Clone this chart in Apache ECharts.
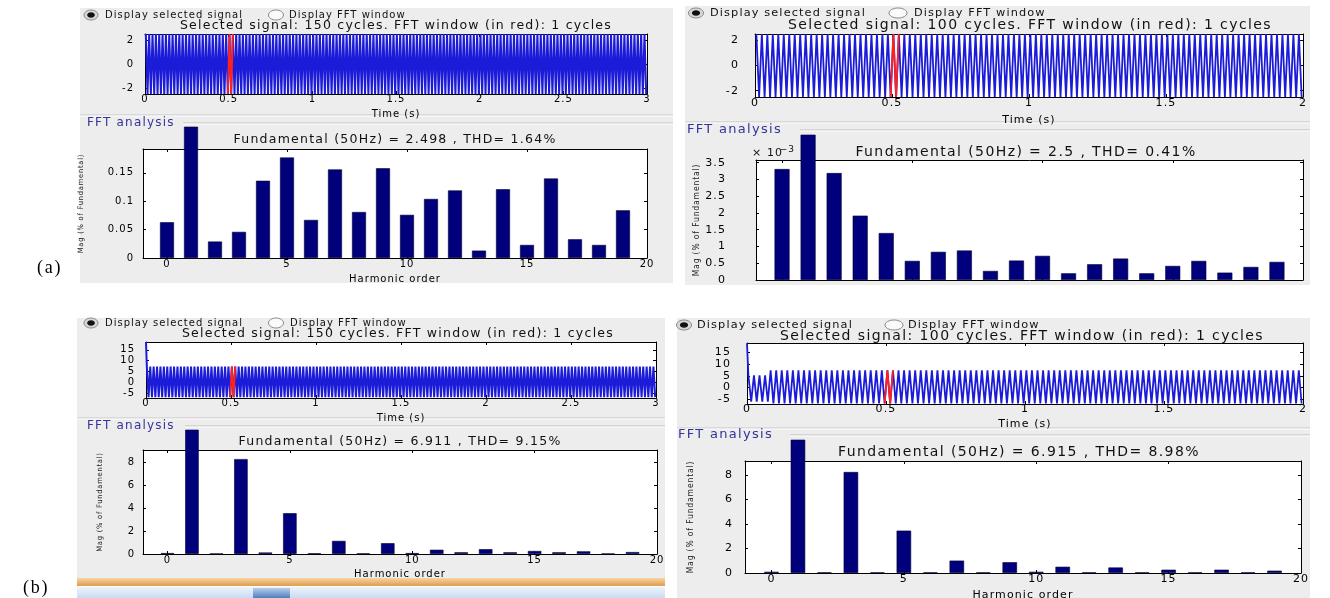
<!DOCTYPE html>
<html><head><meta charset="utf-8">
<script src="https://cdn.jsdelivr.net/npm/echarts@6/dist/echarts.min.js"></script>
<style>html,body{margin:0;padding:0;background:#fff}#c{width:1330px;height:598px}</style>
</head><body><div id="c"></div>
<script>
// ================= DATA =================
const harmonicOrder = [0,1,2,3,4,5,6,7,8,9,10,11,12,13,14,15,16,17,18,19];
// Mag (% of Fundamental), fundamental (order 1) = 100
const magA1 = [0.063,100,0.029,0.046,0.136,0.177,0.067,0.156,0.081,0.158,0.076,0.104,0.119,0.013,0.121,0.023,0.140,0.033,0.023,0.084];
const magA2 = [3.31e-3,100,3.19e-3,1.92e-3,1.40e-3,0.57e-3,0.84e-3,0.88e-3,0.27e-3,0.58e-3,0.72e-3,0.20e-3,0.47e-3,0.64e-3,0.20e-3,0.42e-3,0.57e-3,0.22e-3,0.39e-3,0.54e-3];
const magB1 = [0.08,100,0.03,8.26,0.13,3.55,0.06,1.14,0.05,0.94,0.08,0.37,0.15,0.42,0.15,0.26,0.15,0.23,0.03,0.17];
const magB2 = [0.10,100,0.05,8.25,0.05,3.46,0.05,1.01,0.05,0.88,0.10,0.51,0.05,0.45,0.05,0.27,0.05,0.27,0.05,0.19];

// FFT axis ranges and tick labels
const fftRangeA1 = [0, 0.192], fftTicksA1 = [0, 0.05, 0.1, 0.15];
const fftRangeA2 = [0, 3.58e-3], fftTicksA2 = [0, 0.5e-3, 1e-3, 1.5e-3, 2e-3, 2.5e-3, 3e-3, 3.5e-3];
const fftRangeB1 = [0, 9.05], fftTicksB1 = [0, 2, 4, 6, 8];
const fftRangeB2 = [0, 9.15], fftTicksB2 = [0, 2, 4, 6, 8];
const harmonicRange = [-1, 20], harmonicTicks = [0, 5, 10, 15, 20];

// Time signals: envelope segments [from s, to s, positive peak, negative peak], start transients [t, value]
const fundamentalHz = 50;
const signalA1 = [[0, 3, 2.5, -2.5]];
const signalA2 = [[0, 2, 2.5, -2.5]];
const signalB1 = [[0, 3, 7.3, -6.9]];
const signalB2 = [[0, 0.08, 5.2, -6.0], [0.08, 2, 7.3, -6.8]];
const spikeA1 = [], spikeA2 = [];
const spikeB1 = [[0, 18.6]];
const spikeB2 = [[0, 18.8]];
const fftWindowStart = 0.5, fftWindowCycles = 1;

// time axis ranges and ticks
const timeMaxA = 3, timeMaxB = 2;
const timeRangeA1 = [-2.5, 2.5], timeTicksA1 = [-2, 0, 2];
const timeRangeA2 = [-2.5, 2.5], timeTicksA2 = [-2, 0, 2];
const timeRangeB1 = [-7.3, 18.6], timeTicksB1 = [-5, 0, 5, 10, 15];
const timeRangeB2 = [-7.0, 19.0], timeTicksB2 = [-5, 0, 5, 10, 15];

// texts
const titleA1 = 'Selected signal: 150 cycles. FFT window (in red): 1 cycles';
const titleA2 = 'Selected signal: 100 cycles. FFT window (in red): 1 cycles';
const titleB1 = 'Selected signal: 150 cycles. FFT window (in red): 1 cycles';
const titleB2 = 'Selected signal: 100 cycles. FFT window (in red): 1 cycles';
const fftTitleA1 = 'Fundamental (50Hz) = 2.498 , THD= 1.64%';
const fftTitleA2 = 'Fundamental (50Hz) = 2.5 , THD= 0.41%';
const fftTitleB1 = 'Fundamental (50Hz) = 6.911 , THD= 9.15%';
const fftTitleB2 = 'Fundamental (50Hz) = 6.915 , THD= 8.98%';
const radioLabels = ['Display selected signal', 'Display FFT window'];
const groupLabel = 'FFT analysis';
const timeName = 'Time (s)', harmonicName = 'Harmonic order', magName = 'Mag (% of Fundamental)';
const figureLabels = ['(a)', '(b)'];

// ---- wide letter spacing like the MATLAB screen font ----
(function () {
  const P = CanvasRenderingContext2D.prototype;
  if (!('letterSpacing' in P)) return;
  const orig = P.fillText;
  P.fillText = function (t, x, y, m) {
    const mm = /([\d.]+)px/.exec(this.font);
    this.letterSpacing = mm ? (parseFloat(mm[1]) * 0.1).toFixed(2) + 'px' : '0px';
    return m === undefined ? orig.call(this, t, x, y) : orig.call(this, t, x, y, m);
  };
})();

// ================= LAYOUT (pixels) =================
const FONT = '"DejaVu Sans", Arial, sans-serif';
const NARROW = '"Liberation Sans Narrow","DejaVu Sans Condensed","DejaVu Sans",sans-serif';
const panels = [
  { mags: magA1, fftRange: fftRangeA1, fftTicks: fftTicksA1, sig: signalA1, spike: spikeA1, tMax: timeMaxA,
    tRange: timeRangeA1, tTicks: timeTicksA1, title: titleA1, fftTitle: fftTitleA1, showFftX: true, sci: false,
    bg: [80, 8, 593, 275], fs: { radio: 10, title: 12.5, tick: 10, name: 10, group: 12, yname: 7.5 },
    radio: [[91, 15, 7], [276, 15, 7.5]], radioText: [105, 289], radioY: 15,
    titleC: [396, 26], lw: 2,
    time: { left: 145, top: 34, width: 502, height: 60, xm: 0, ym: 11, gap: 15 },
    divider: 115, group: [87, 123, 183],
    fftTitleC: [395, 140], overTop: 127,
    fft: { left: 143, top: 149, width: 504, height: 109, xm: 1, ym: 9, gap: 16, ygap: 58 },
    barW: 14 },
  { mags: magA2, fftRange: fftRangeA2, fftTicks: fftTicksA2, sig: signalA2, spike: spikeA2, tMax: timeMaxB,
    tRange: timeRangeA2, tTicks: timeTicksA2, title: titleA2, fftTitle: fftTitleA2, showFftX: false, sci: true,
    bg: [685, 6, 625, 279], fs: { radio: 11.3, title: 14, tick: 11, name: 11, group: 13, yname: 8.5 },
    radio: [[696, 13, 7.5], [898, 13, 9]], radioText: [710, 914], radioY: 13,
    titleC: [1030, 25], lw: 1.8,
    time: { left: 755, top: 34, width: 548, height: 63, xm: 1, ym: 16, gap: 18 },
    divider: 122, group: [687, 130, 800],
    fftTitleC: [1026, 152], overTop: 135,
    fft: { left: 756, top: 160, width: 547, height: 120, xm: 1, ym: 30, gap: 16, ygap: 55 },
    barW: 15 },
  { mags: magB1, fftRange: fftRangeB1, fftTicks: fftTicksB1, sig: signalB1, spike: spikeB1, tMax: timeMaxA,
    tRange: timeRangeB1, tTicks: timeTicksB1, title: titleB1, fftTitle: fftTitleB1, showFftX: true, sci: false,
    bg: [77, 318, 588, 260], fs: { radio: 10, title: 12.5, tick: 10, name: 10, group: 12, yname: 7.5 },
    radio: [[91, 323, 7], [276, 323, 7.5]], radioText: [105, 290], radioY: 323,
    titleC: [398, 334], lw: 2,
    time: { left: 146, top: 342, width: 510, height: 56, xm: 0, ym: 11, gap: 15 },
    divider: 418, group: [87, 426, 185],
    fftTitleC: [400, 442], overTop: 430,
    fft: { left: 143, top: 450, width: 514, height: 104, xm: 1, ym: 8, gap: 15, ygap: 39 },
    barW: 13.5 },
  { mags: magB2, fftRange: fftRangeB2, fftTicks: fftTicksB2, sig: signalB2, spike: spikeB2, tMax: timeMaxB,
    tRange: timeRangeB2, tTicks: timeTicksB2, title: titleB2, fftTitle: fftTitleB2, showFftX: true, sci: false,
    bg: [677, 318, 633, 280], fs: { radio: 11.3, title: 14, tick: 11, name: 11, group: 13, yname: 8.5 },
    radio: [[684, 325, 7.5], [894, 325, 9]], radioText: [697, 908], radioY: 325,
    titleC: [1022, 336], lw: 1.8,
    time: { left: 747, top: 343, width: 556, height: 61, xm: 0, ym: 16, gap: 15 },
    divider: 428, group: [678, 435, 790],
    fftTitleC: [1019, 452], overTop: 440,
    fft: { left: 745, top: 461, width: 556, height: 112, xm: 1, ym: 12, gap: 17, ygap: 50 },
    barW: 14.5 }
];

// ================= BUILD =================
function buildSignal(spikes, segments, f) {
  const pts = spikes.map(p => p.slice());
  const half = 1 / (2 * f);
  segments.forEach(([t0, t1, up, lo]) => {
    for (let k = 0; (k + 0.5) * half <= t1 + 1e-9; k++) {
      const t = (k + 0.5) * half;
      if (t < t0) continue;
      pts.push([+t.toFixed(4), k % 2 === 0 ? up : lo]);
    }
  });
  return pts;
}

const grid = [], xAxis = [], yAxis = [], series = [], graphic = [];
const BLACK = '#000';

function axisBase(gi, extra) {
  return Object.assign({
    gridIndex: gi, type: 'value',
    axisLine: { show: true, onZero: false, lineStyle: { color: BLACK, width: 1 } },
    axisTick: { show: true, inside: true, length: 3, lineStyle: { color: BLACK } },
    splitLine: { show: false }
  }, extra);
}

panels.forEach((p, pi) => {
  const fs = p.fs;
  const [bx, by, bw, bh] = p.bg;
  graphic.push({ type: 'rect', z: -20, shape: { x: bx, y: by, width: bw, height: bh }, style: { fill: '#ededed' }, silent: true });
  graphic.push({ type: 'line', z: -10, shape: { x1: bx, y1: p.divider, x2: bx + bw, y2: p.divider }, style: { stroke: '#c4c4c4', lineWidth: 1 } });
  graphic.push({ type: 'line', z: -10, shape: { x1: bx, y1: p.divider + 1, x2: bx + bw, y2: p.divider + 1 }, style: { stroke: '#ffffff', lineWidth: 1 } });
  graphic.push({ type: 'line', z: -10, shape: { x1: p.group[2], y1: p.group[1], x2: bx + bw, y2: p.group[1] }, style: { stroke: '#bdbdbd', lineWidth: 1 } });
  graphic.push({ type: 'line', z: -10, shape: { x1: p.group[2], y1: p.group[1] + 1, x2: bx + bw, y2: p.group[1] + 1 }, style: { stroke: '#ffffff', lineWidth: 1 } });
  graphic.push({ type: 'text', z: 10, x: p.group[0], y: p.group[1], style: { text: groupLabel, fill: '#34349c', font: fs.group + 'px ' + FONT, textVerticalAlign: 'middle' } });
  p.radio.forEach(([cx, cy, rx], ri) => {
    graphic.push({ type: 'ellipse', z: 5, shape: { cx, cy, rx, ry: 5 }, style: { fill: ri === 0 ? '#d8d8d8' : '#fafafa', stroke: '#8a8a8a', lineWidth: 1 } });
    if (ri === 0) graphic.push({ type: 'ellipse', z: 6, shape: { cx, cy, rx: rx * 0.55, ry: 2.8 }, style: { fill: '#111' } });
    graphic.push({ type: 'text', z: 10, x: p.radioText[ri], y: p.radioY, style: { text: radioLabels[ri], fill: '#111', font: fs.radio + 'px ' + FONT, textVerticalAlign: 'middle' } });
  });
  graphic.push({ type: 'text', z: 10, x: p.titleC[0], y: p.titleC[1], style: { text: p.title, fill: '#111', font: fs.title + 'px ' + FONT, textAlign: 'center', textVerticalAlign: 'middle' } });
  graphic.push({ type: 'text', z: 10, x: p.fftTitleC[0], y: p.fftTitleC[1], style: { text: p.fftTitle, fill: '#111', font: fs.title + 'px ' + FONT, textAlign: 'center', textVerticalAlign: 'middle' } });
  if (p.sci) {
    graphic.push({ type: 'text', z: 10, x: p.fft.left - 4, y: p.fft.top - 7, style: {
      text: '{a|× 10}{s|\u22123}', textVerticalAlign: 'middle',
      rich: { a: { font: fs.tick + 'px ' + FONT, fill: '#111' }, s: { font: (fs.tick - 2) + 'px ' + FONT, fill: '#111', verticalAlign: 'top', padding: [0, 0, 6, 1] } } } });
  }

  // ---- time plot ----
  const tg = grid.length;
  grid.push({ left: p.time.left, top: p.time.top, width: p.time.width, height: p.time.height, show: true, backgroundColor: '#fff', borderWidth: 0, outerBoundsMode: 'none', containLabel: false });
  const tx = xAxis.length;
  xAxis.push(axisBase(tg, { position: 'bottom', min: 0, max: p.tMax, interval: 0.5,
    axisLabel: { color: BLACK, fontSize: fs.tick, fontFamily: FONT, margin: p.time.xm, formatter: v => String(v) },
    name: timeName, nameLocation: 'middle', nameGap: p.time.gap, nameTextStyle: { color: BLACK, fontSize: fs.name, fontFamily: FONT } }));
  xAxis.push(axisBase(tg, { position: 'top', min: 0, max: p.tMax, interval: 0.5, axisLabel: { show: false } }));
  const ty = yAxis.length;
  yAxis.push(axisBase(tg, { position: 'left', min: p.tRange[0], max: p.tRange[1],
    axisLabel: { color: BLACK, fontSize: fs.tick, fontFamily: FONT, margin: p.time.ym, customValues: p.tTicks },
    axisTick: { show: true, inside: true, length: 3, lineStyle: { color: BLACK }, customValues: p.tTicks } }));
  yAxis.push(axisBase(tg, { position: 'right', min: p.tRange[0], max: p.tRange[1], axisLabel: { show: false },
    axisTick: { show: true, inside: true, length: 3, lineStyle: { color: BLACK }, customValues: p.tTicks } }));
  const sigPts = buildSignal(p.spike, p.sig, fundamentalHz);
  series.push({ type: 'line', xAxisIndex: tx, yAxisIndex: ty, data: sigPts, symbol: 'none', clip: true,
    lineStyle: { color: '#1c1cd8', width: p.lw }, animation: false, silent: true, z: 3 });
  const half = 1 / (2 * fundamentalHz);
  const winEnd = fftWindowStart + fftWindowCycles / fundamentalHz;
  const redPts = sigPts.filter(q => q[0] >= fftWindowStart - half && q[0] <= winEnd + half);
  series.push({ type: 'line', xAxisIndex: tx, yAxisIndex: ty, data: redPts, symbol: 'none', clip: true,
    lineStyle: { color: '#ff2020', width: 1.8 }, animation: false, silent: true, z: 4 });

  // ---- FFT box ----
  const fg = grid.length;
  grid.push({ left: p.fft.left, top: p.fft.top, width: p.fft.width, height: p.fft.height, show: true, backgroundColor: '#fff', borderWidth: 0, outerBoundsMode: 'none', containLabel: false });
  const fx = xAxis.length;
  xAxis.push(axisBase(fg, { position: 'bottom', min: harmonicRange[0], max: harmonicRange[1],
    axisLabel: { show: p.showFftX, color: BLACK, fontSize: fs.tick, fontFamily: FONT, margin: p.fft.xm, customValues: harmonicTicks },
    axisTick: { show: true, inside: true, length: 3, lineStyle: { color: BLACK }, customValues: harmonicTicks },
    name: p.showFftX ? harmonicName : '', nameLocation: 'middle', nameGap: p.fft.gap, nameTextStyle: { color: BLACK, fontSize: fs.name, fontFamily: FONT } }));
  xAxis.push(axisBase(fg, { position: 'top', min: harmonicRange[0], max: harmonicRange[1], axisLabel: { show: false },
    axisTick: { show: true, inside: true, length: 3, lineStyle: { color: BLACK }, customValues: harmonicTicks } }));
  const fy = yAxis.length;
  const fmt = p.sci ? (v => String(Math.round(v * 10000) / 10)) : (v => String(v));
  yAxis.push(axisBase(fg, { position: 'left', min: p.fftRange[0], max: p.fftRange[1],
    axisLabel: { color: BLACK, fontSize: fs.tick, fontFamily: FONT, margin: p.fft.ym, customValues: p.fftTicks, formatter: fmt },
    axisTick: { show: true, inside: true, length: 3, lineStyle: { color: BLACK }, customValues: p.fftTicks },
    name: magName, nameLocation: 'middle', nameRotate: 90, nameGap: p.fft.ygap,
    nameTextStyle: { color: '#222', fontSize: fs.yname, fontFamily: NARROW } }));
  yAxis.push(axisBase(fg, { position: 'right', min: p.fftRange[0], max: p.fftRange[1], axisLabel: { show: false },
    axisTick: { show: true, inside: true, length: 3, lineStyle: { color: BLACK }, customValues: p.fftTicks } }));
  const barStyle = { color: '#00007c', borderColor: '#000033', borderWidth: 0.6 };
  series.push({ type: 'bar', xAxisIndex: fx, yAxisIndex: fy, barWidth: p.barW, clip: true, animation: false, silent: true,
    data: harmonicOrder.map((h, i) => [h, p.mags[i]]).filter(d => d[0] !== 1), itemStyle: barStyle, z: 3 });

  // ---- overflow window for the fundamental bar (same scale, taller window) ----
  const og = grid.length;
  const boxBottom = p.fft.top + p.fft.height;
  const oh = boxBottom - p.overTop;
  grid.push({ left: p.fft.left, top: p.overTop, width: p.fft.width, height: oh, show: false, outerBoundsMode: 'none', containLabel: false });
  const ox = xAxis.length;
  xAxis.push({ gridIndex: og, type: 'value', min: harmonicRange[0], max: harmonicRange[1], show: false });
  const oy = yAxis.length;
  yAxis.push({ gridIndex: og, type: 'value', min: 0, max: p.fftRange[1] * oh / p.fft.height, show: false });
  series.push({ type: 'bar', xAxisIndex: ox, yAxisIndex: oy, barWidth: p.barW, clip: true, animation: false, silent: true,
    data: harmonicOrder.map((h, i) => [h, p.mags[i]]).filter(d => d[0] === 1), itemStyle: barStyle, z: 6 });
});

graphic.push({ type: 'text', x: 37, y: 268, style: { text: figureLabels[0], font: '18px "Liberation Serif", serif', fill: '#000', textVerticalAlign: 'middle' } });
graphic.push({ type: 'text', x: 23, y: 588, style: { text: figureLabels[1], font: '18px "Liberation Serif", serif', fill: '#000', textVerticalAlign: 'middle' } });
graphic.push({ type: 'rect', z: -15, shape: { x: 77, y: 578, width: 588, height: 8 },
  style: { fill: new echarts.graphic.LinearGradient(0, 0, 0, 1, [{ offset: 0, color: '#f6d6a4' }, { offset: 1, color: '#e29a4c' }]) } });
graphic.push({ type: 'rect', z: -15, shape: { x: 77, y: 587, width: 588, height: 11 },
  style: { fill: new echarts.graphic.LinearGradient(0, 0, 0, 1, [{ offset: 0, color: '#eef4fb' }, { offset: 1, color: '#c9dcf2' }]) } });
graphic.push({ type: 'rect', z: -14, shape: { x: 253, y: 588, width: 37, height: 10 },
  style: { fill: new echarts.graphic.LinearGradient(0, 0, 0, 1, [{ offset: 0, color: '#b8cde8' }, { offset: 1, color: '#4f7fc0' }]) } });

const chart = echarts.init(document.getElementById('c'), null, { renderer: 'canvas' });
chart.setOption({ animation: false, backgroundColor: '#fff', grid, xAxis, yAxis, series, graphic });
</script></body></html>
